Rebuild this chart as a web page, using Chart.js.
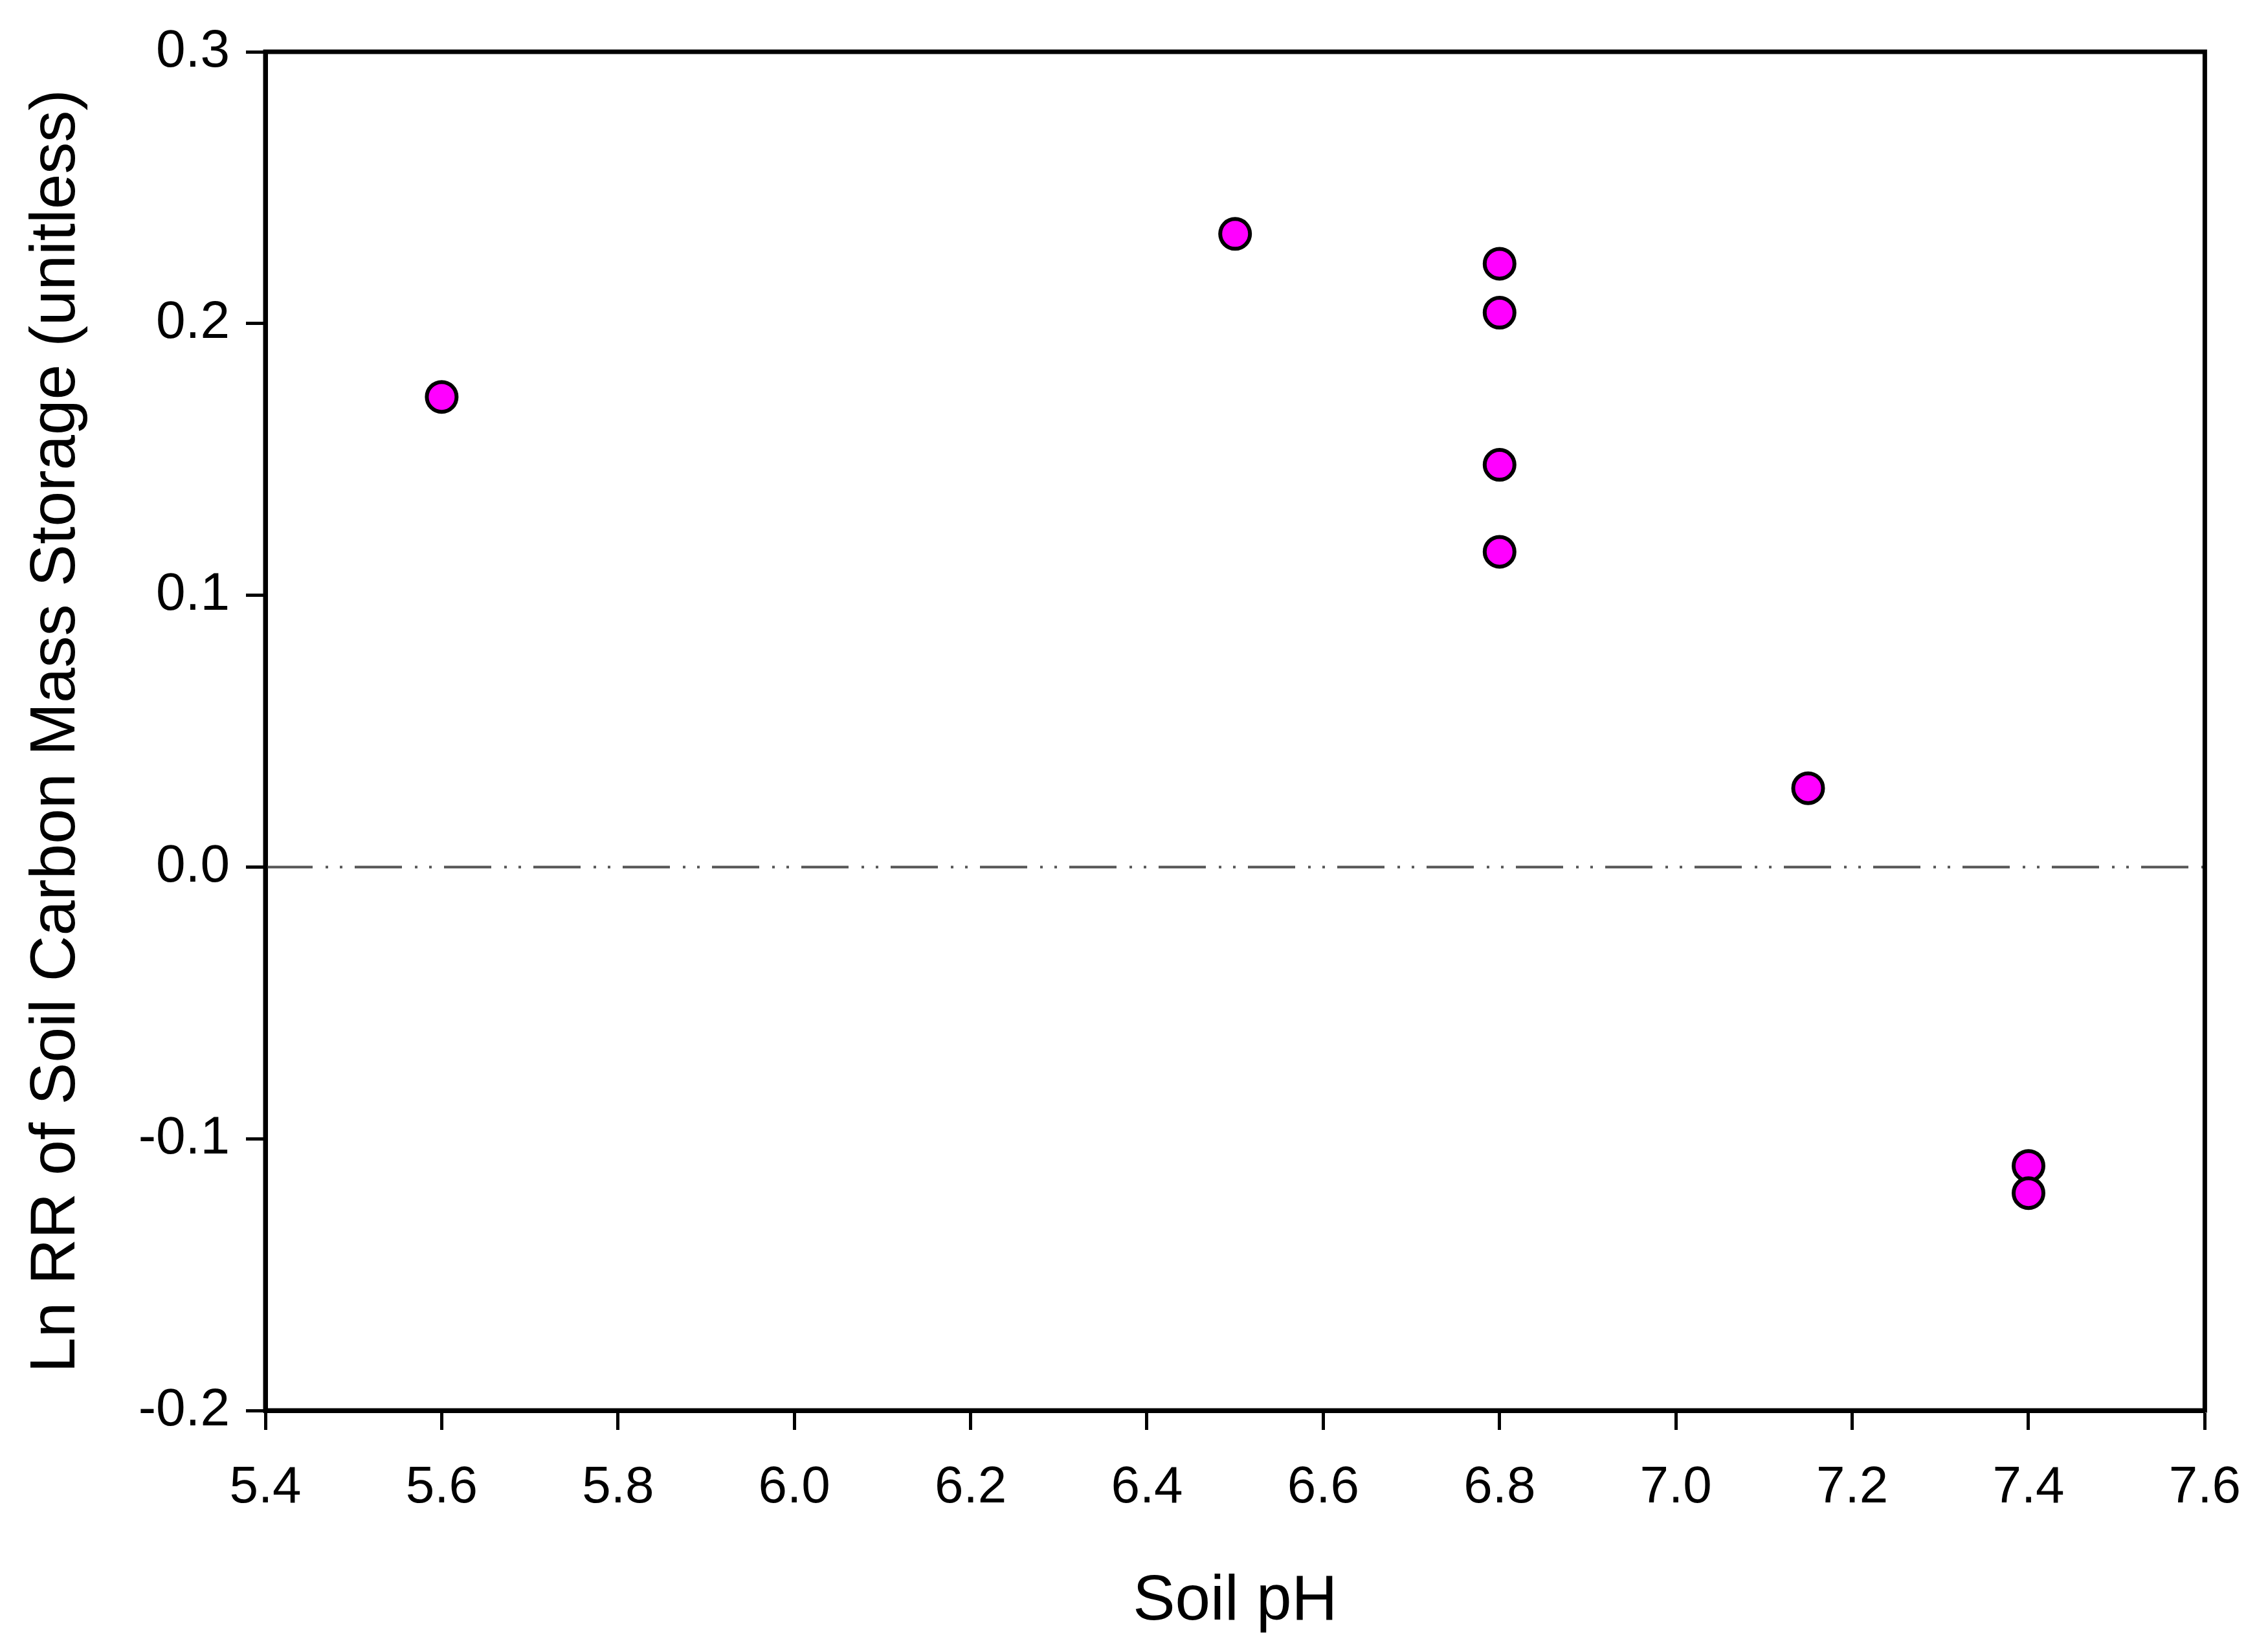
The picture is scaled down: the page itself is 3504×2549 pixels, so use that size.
<!DOCTYPE html>
<html>
<head>
<meta charset="utf-8">
<script src="https://cdn.jsdelivr.net/npm/chart.js@4.4.1/dist/chart.umd.min.js"></script>
<style>
  html, body { margin: 0; padding: 0; background: #fff; }
  #wrap { width: 3504px; height: 2549px; }
</style>
</head>
<body>
<div id="wrap"><canvas id="chartPh" width="3504" height="2549"></canvas></div>
<script>
// datos
const soilPh = [5.6, 6.5, 6.8, 6.8, 6.8, 6.8, 7.15, 7.4, 7.4]
const lnRR = [0.173, 0.233, 0.222, 0.204, 0.148, 0.116, 0.029, -0.110, -0.120]

// linea de referencia en cero
const refX = [5.4, 7.6]
const refY = [0, 0]

const xTicks = [5.4, 5.6, 5.8, 6.0, 6.2, 6.4, 6.6, 6.8, 7.0, 7.2, 7.4, 7.6]
const yTicks = [-0.2, -0.1, 0.0, 0.1, 0.2, 0.3]

const fuente = 'Arial, "Liberation Sans", sans-serif'

// marco completo alrededor del area de grafico
const marco = {
    id: 'marco',
    afterDraw(chart) {
        const { ctx, chartArea } = chart
        ctx.save()
        ctx.strokeStyle = '#000'
        ctx.lineWidth = 7
        ctx.strokeRect(chartArea.left, chartArea.top, chartArea.right - chartArea.left, chartArea.bottom - chartArea.top)
        ctx.restore()
    }
}

const canvas = document.getElementById('chartPh')
const context = canvas.getContext('2d')

const chartPh = new Chart(context, {
    type: 'scatter',
    data: {
        datasets: [
            {
                label: 'cero',
                type: 'line',
                data: refX.map((x, i) => ({ x: x, y: refY[i] })),
                borderColor: '#555555',
                borderWidth: 4,
                borderDash: [73, 20, 4, 18, 4, 19],
                pointRadius: 0,
                fill: false
            },
            {
                label: 'Ln RR',
                data: soilPh.map((x, i) => ({ x: x, y: lnRR[i] })),
                backgroundColor: '#ff00ff',
                borderColor: '#000000',
                borderWidth: 6,
                pointRadius: 23
            }
        ]
    },
    options: {
        responsive: false,
        animation: false,
        devicePixelRatio: 1,
        layout: {
            padding: { top: 80, right: 96, left: 0, bottom: 0 }
        },
        plugins: {
            legend: { display: false },
            tooltip: { enabled: false }
        },
        scales: {
            x: {
                type: 'linear',
                min: 5.4,
                max: 7.6,
                afterBuildTicks: (scale) => { scale.ticks = xTicks.map(v => ({ value: v })) },
                afterFit: (scale) => { scale.height = 370 },
                border: { display: true, color: '#000', width: 7 },
                grid: {
                    drawOnChartArea: false,
                    drawTicks: true,
                    tickLength: 30,
                    tickWidth: 5,
                    tickColor: '#000'
                },
                ticks: {
                    color: '#000',
                    padding: 42,
                    maxRotation: 0,
                    font: { family: fuente, size: 80 },
                    callback: (v) => Number(v).toFixed(1)
                },
                title: {
                    display: true,
                    text: 'Soil pH',
                    color: '#000',
                    font: { family: fuente, size: 98 },
                    padding: { top: 0, bottom: 15 }
                }
            },
            y: {
                type: 'linear',
                min: -0.2,
                max: 0.3,
                afterBuildTicks: (scale) => { scale.ticks = yTicks.map(v => ({ value: v })) },
                afterFit: (scale) => { scale.width = 410 },
                border: { display: true, color: '#000', width: 7 },
                grid: {
                    drawOnChartArea: false,
                    drawTicks: true,
                    tickLength: 30,
                    tickWidth: 5,
                    tickColor: '#000'
                },
                ticks: {
                    color: '#000',
                    padding: 25,
                    font: { family: fuente, size: 82 },
                    callback: (v) => Number(v).toFixed(1)
                },
                title: {
                    display: true,
                    text: 'Ln RR of Soil Carbon Mass Storage (unitless)',
                    color: '#000',
                    font: { family: fuente, size: 98 },
                    padding: { top: 29, bottom: 0 }
                }
            }
        }
    },
    plugins: [marco]
})
</script>
</body>
</html>
